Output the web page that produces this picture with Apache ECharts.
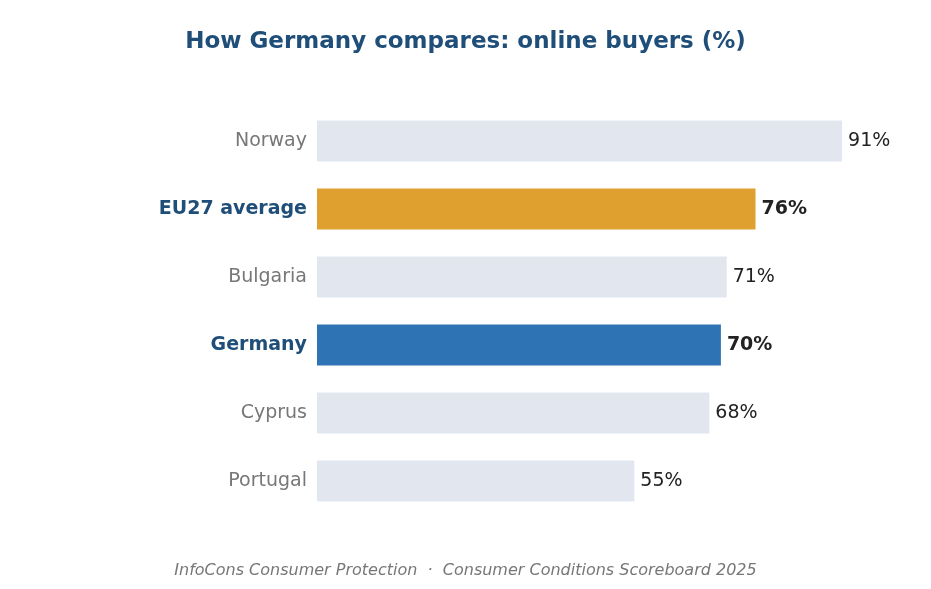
<!DOCTYPE html>
<html><head><meta charset="utf-8">
<script src="https://cdn.jsdelivr.net/npm/echarts@6/dist/echarts.min.js"></script>
<style>html,body{margin:0;padding:0;background:#fff}#c{width:931px;height:589px}</style>
</head><body><div id="c"></div>
<script>
const categories = ["Norway","EU27 average","Bulgaria","Germany","Cyprus","Portugal"];
const values = [91,76,71,70,68,55];
const highlight = {"EU27 average":"#e0a030","Germany":"#2e74b5"};
const chart = echarts.init(document.getElementById('c'));
const cats = categories.slice().reverse(), vals = values.slice().reverse();
chart.setOption({
  animation:false,
  title:{text:"How Germany compares: online buyers (%)",left:'center',top:26,
    textStyle:{color:'#1f4e79',fontSize:23,fontWeight:'bold',fontFamily:'DejaVu Sans'}},
  graphic:[{type:'text',left:'center',top:563,style:{text:"InfoCons Consumer Protection  ·  Consumer Conditions Scoreboard 2025",
    fill:'#777',font:'italic 16px "DejaVu Sans"'}}],
  grid:{left:317,right:37,top:107,bottom:74},
  xAxis:{type:'value',min:0,max:100,show:false},
  yAxis:{type:'category',data:cats,axisLine:{show:false},axisTick:{show:false},
    axisLabel:{margin:10,fontSize:19,fontFamily:'DejaVu Sans',
      formatter:v=>highlight[v]?'{h|'+v+'}':'{n|'+v+'}',
      rich:{h:{color:'#1f4e79',fontWeight:'bold',fontSize:19,fontFamily:'DejaVu Sans'},n:{color:'#777',fontSize:19,fontFamily:'DejaVu Sans'}}}},
  series:[{type:'bar',barWidth:41,
    data:vals.map((v,i)=>({value:v,itemStyle:{color:highlight[cats[i]]||'#e2e7ef'},
      label:{fontWeight:highlight[cats[i]]?'bold':'normal'}})),
    label:{show:true,position:'right',distance:6,formatter:'{c}%',color:'#222',fontSize:19,fontFamily:'DejaVu Sans'}}]
});
</script></body></html>
